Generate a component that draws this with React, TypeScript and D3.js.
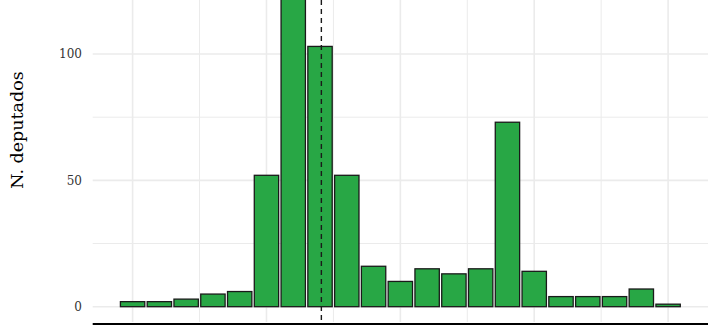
import React from "react";
import * as d3 from "d3";

const binIndex = [0,1,2,3,4,5,6,7,8,9,10,11,12,13,14,15,16,17,18,19,20];
const counts = [2,2,3,5,6,52,140,103,52,16,10,15,13,15,73,14,4,4,4,7,1];
const yTicks = [0, 50, 100];
const yMinor = [25, 75];
const xMajor = [0, 5, 10, 15, 20];
const xMinor = [2.5, 7.5, 12.5, 17.5];
const meanLine = 7.05;
const yLabel = "N. deputados";

const W = 720, H = 333;
const left = 92.7, right = 708;

export default function App() {
  const x = d3.scaleLinear().domain([-1.49, 21.49]).range([left, right]);
  const y = d3.scaleLinear().domain([0, 100]).range([306.7, 54]);
  const bw = (x(1) - x(0)) * 0.91;
  const font = "'DejaVu Serif', serif";
  return (
    <svg width={W} height={H} style={{ position: "absolute", left: 0, top: 0, background: "#fff" }}>
      <defs>
        <clipPath id="panel">
          <rect x={left} y={0} width={right - left} height={322} />
        </clipPath>
      </defs>
      <g>
        {yMinor.map((v) => (
          <line key={"ym" + v} x1={left} x2={right} y1={y(v)} y2={y(v)} stroke="#ebebeb" strokeWidth={1} />
        ))}
        {yTicks.map((v) => (
          <line key={"yM" + v} x1={left} x2={right} y1={y(v)} y2={y(v)} stroke="#ebebeb" strokeWidth={1.6} />
        ))}
        {xMinor.map((v) => (
          <line key={"xm" + v} x1={x(v)} x2={x(v)} y1={0} y2={322} stroke="#ebebeb" strokeWidth={1} />
        ))}
        {xMajor.map((v) => (
          <line key={"xM" + v} x1={x(v)} x2={x(v)} y1={0} y2={322} stroke="#ebebeb" strokeWidth={1.6} />
        ))}
      </g>
      <g clipPath="url(#panel)">
        {binIndex.map((b, i) => (
          <rect
            key={b}
            x={x(b) - bw / 2}
            y={y(counts[i])}
            width={bw}
            height={y(0) - y(counts[i])}
            fill="#28a745"
            stroke="#1a1a1a"
            strokeWidth={1.3}
          />
        ))}
      </g>
      <line x1={x(meanLine)} x2={x(meanLine)} y1={0} y2={324} stroke="#1a1a1a" strokeWidth={1.4} strokeDasharray="5,4" />
      <line x1={left} x2={right} y1={324} y2={324} stroke="#000" strokeWidth={2} />
      {yTicks.map((v) => (
        <text key={"t" + v} x={82} y={y(v)} dy="0.35em" textAnchor="end" fontFamily={font} fontSize={12} fill="#333">
          {v}
        </text>
      ))}
      <text
        transform={`translate(23,130) rotate(-90)`}
        textAnchor="middle"
        fontFamily={font}
        fontSize={17.5}
        fill="#000"
      >
        {yLabel}
      </text>
    </svg>
  );
}
